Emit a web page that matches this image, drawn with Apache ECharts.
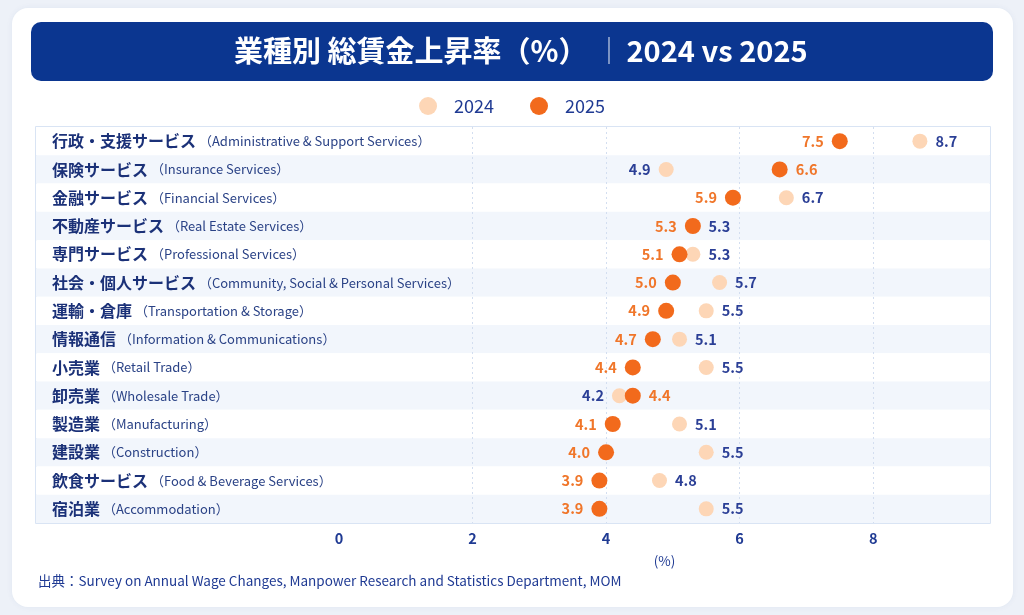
<!DOCTYPE html>
<html>
<head>
<meta charset="utf-8">
<script src="https://cdn.jsdelivr.net/npm/echarts@6/dist/echarts.min.js"></script>
<style>
html, body { margin: 0; padding: 0; background: #edf1f8; }
#main { width: 1024px; height: 615px; }
</style>
</head>
<body>
<div id="main"></div>
<script>
// 業種（日本語 / English）
var catJa = ['行政・支援サービス', '保険サービス', '金融サービス', '不動産サービス', '専門サービス',
    '社会・個人サービス', '運輸・倉庫', '情報通信', '小売業', '卸売業', '製造業', '建設業',
    '飲食サービス', '宿泊業'];
var catEn = ['Administrative & Support Services', 'Insurance Services', 'Financial Services',
    'Real Estate Services', 'Professional Services', 'Community, Social & Personal Services',
    'Transportation & Storage', 'Information & Communications', 'Retail Trade', 'Wholesale Trade',
    'Manufacturing', 'Construction', 'Food & Beverage Services', 'Accommodation'];
var v2024 = [8.7, 4.9, 6.7, 5.3, 5.3, 5.7, 5.5, 5.1, 5.5, 4.2, 5.1, 5.5, 4.8, 5.5];
var v2025 = [7.5, 6.6, 5.9, 5.3, 5.1, 5.0, 4.9, 4.7, 4.4, 4.4, 4.1, 4.0, 3.9, 3.9];
var xTicks = [0, 2, 4, 6, 8];
var xGrid = [2, 4, 6, 8];

var FONT = "'Noto Sans CJK JP', 'Noto Sans', sans-serif";
var NAVY = '#1f3a93';
var ORANGE = '#f26a1c';
var PEACH = '#fdd6b6';

var cats = catJa.map(function (c, i) { return c + '|' + catEn[i]; });

// 小さい方の値は左、大きい方は右にラベル
var d2024 = [];
var d2025 = [];
for (var i = 0; i < cats.length; i++) {
    d2024.push({
        value: [v2024[i], i],
        label: { position: v2024[i] >= v2025[i] ? 'right' : 'left' }
    });
    d2025.push({
        value: [v2025[i], i],
        label: { position: v2025[i] > v2024[i] ? 'right' : 'left' }
    });
}

var chart = echarts.init(document.getElementById('main'));
var option = {
    backgroundColor: '#edf1f8',
    textStyle: { fontFamily: FONT },
    graphic: [
        {
            type: 'rect', z: -10,
            shape: { x: 12, y: 8, width: 1001, height: 599, r: 16 },
            style: { fill: '#ffffff', shadowBlur: 6, shadowColor: 'rgba(40,70,140,0.06)' }
        },
        {
            type: 'rect', z: -9,
            shape: { x: 31, y: 22, width: 962, height: 59, r: 10 },
            style: { fill: '#0b3690' }
        },
        {
            type: 'text', z: 5,
            left: 38, top: 574,
            style: {
                text: '出典：Survey on Annual Wage Changes, Manpower Research and Statistics Department, MOM',
                font: '13.5px ' + FONT,
                fill: NAVY
            }
        }
    ],
    title: {
        left: 234,
        top: 36,
        padding: 0,
        text: '{a|業種別 総賃金上昇率（%）}{s|｜}{b|2024 vs 2025}',
        textStyle: {
            rich: {
                a: { fontSize: 29, fontWeight: 'bold', color: '#ffffff', fontFamily: FONT },
                s: { fontSize: 27, fontWeight: 'normal', color: 'rgba(255,255,255,0.75)', fontFamily: FONT, padding: [0, 4, 0, 8] },
                b: { fontSize: 29, fontWeight: 'bold', color: '#ffffff', fontFamily: FONT }
            }
        }
    },
    legend: {
        top: 92,
        left: 'center',
        icon: 'circle',
        itemWidth: 42,
        itemHeight: 18,
        itemGap: 36,
        data: ['2024', '2025'],
        textStyle: { fontSize: 18, color: NAVY, fontFamily: FONT }
    },
    grid: [
        // 行の帯とラベル用
        { left: 36, right: 34, top: 127, bottom: 92, show: true, borderColor: '#cddbf1', borderWidth: 1.5, backgroundColor: 'transparent' },
        // データ用
        { left: 339, right: 34, top: 127, bottom: 92 }
    ],
    xAxis: [
        { gridIndex: 0, type: 'value', show: false, min: 0, max: 1 },
        {
            gridIndex: 1,
            type: 'value',
            min: 0,
            max: 9.75,
            name: '(%)',
            nameLocation: 'middle',
            nameGap: 31,
            nameTextStyle: { fontSize: 13.5, color: NAVY, fontFamily: FONT },
            axisLine: { show: false },
            axisTick: { show: false, customValues: xGrid },
            axisLabel: {
                customValues: xTicks,
                margin: 8,
                fontSize: 14.5,
                fontWeight: 'bold',
                color: NAVY,
                fontFamily: FONT
            },
            splitLine: { show: true, lineStyle: { color: '#d3def0', type: [2, 3], width: 1 } }
        }
    ],
    yAxis: [
        {
            gridIndex: 0,
            type: 'category',
            inverse: true,
            data: cats,
            axisLine: { show: false },
            axisTick: { show: false },
            splitArea: { show: true, areaStyle: { color: ['#ffffff', '#f2f6fc'] } },
            axisLabel: {
                inside: true,
                margin: 16,
                align: 'left',
                formatter: function (v) {
                    var p = v.split('|');
                    return '{jp|' + p[0] + '}{en| （' + p[1] + '）}';
                },
                rich: {
                    jp: { fontSize: 16, fontWeight: 'bold', color: '#1b3178', fontFamily: FONT },
                    en: { fontSize: 13, color: '#2a4286', fontFamily: FONT }
                }
            }
        },
        {
            gridIndex: 1,
            type: 'category',
            inverse: true,
            data: cats,
            show: false
        }
    ],
    series: [
        {
            name: '2024',
            type: 'scatter',
            xAxisIndex: 1,
            yAxisIndex: 1,
            symbolSize: 15,
            itemStyle: { color: PEACH, opacity: 1 },
            label: {
                show: true,
                distance: 8,
                fontSize: 14.5,
                fontWeight: 'bold',
                color: '#2b3f96',
                fontFamily: FONT,
                formatter: function (p) { return p.value[0].toFixed(1); }
            },
            data: d2024
        },
        {
            name: '2025',
            type: 'scatter',
            xAxisIndex: 1,
            yAxisIndex: 1,
            symbolSize: 16,
            itemStyle: { color: ORANGE, opacity: 1 },
            label: {
                show: true,
                distance: 8,
                fontSize: 14.5,
                fontWeight: 'bold',
                color: '#f0762a',
                fontFamily: FONT,
                formatter: function (p) { return p.value[0].toFixed(1); }
            },
            data: d2025
        }
    ]
};
chart.setOption(option);
</script>
</body>
</html>
